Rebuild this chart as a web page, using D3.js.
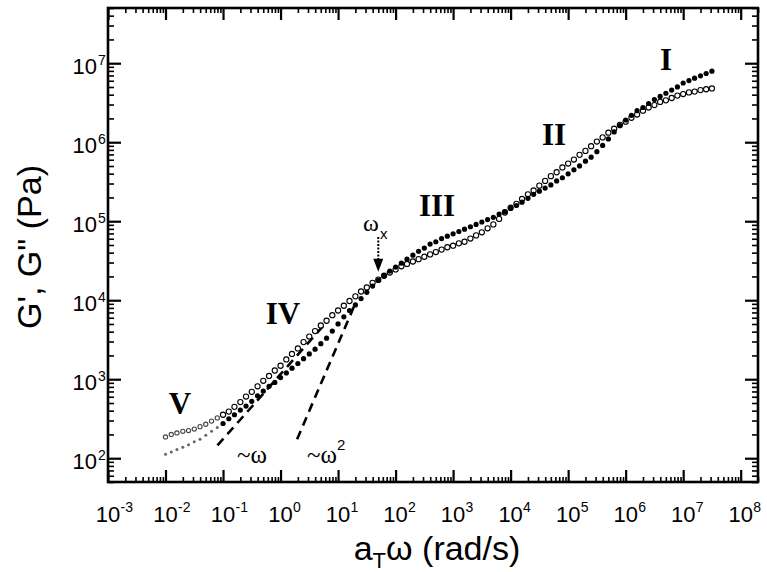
<!DOCTYPE html>
<html><head><meta charset="utf-8">
<script src="https://cdn.jsdelivr.net/npm/d3@7"></script>
<style>body{margin:0;background:#fff}</style>
</head><body><svg id="c" width="767" height="572"></svg>
<script>
// ---- data ----
const freq = [
1.00e-2,1.26e-2,1.58e-2,2.00e-2,2.51e-2,3.16e-2,3.98e-2,5.01e-2,6.31e-2,7.94e-2,
1.00e-1,1.26e-1,1.58e-1,2.00e-1,2.51e-1,3.16e-1,3.98e-1,5.01e-1,6.31e-1,7.94e-1,
1.00e0,1.26e0,1.58e0,2.00e0,2.51e0,3.16e0,3.98e0,5.01e0,6.31e0,7.94e0,
1.00e1,1.26e1,1.58e1,2.00e1,2.51e1,3.16e1,3.98e1,5.01e1,6.31e1,7.94e1,
1.00e2,1.26e2,1.58e2,2.00e2,2.51e2,3.16e2,3.98e2,5.01e2,6.31e2,7.94e2,
1.00e3,1.26e3,1.58e3,2.00e3,2.51e3,3.16e3,3.98e3,5.01e3,6.31e3,7.94e3,
1.00e4,1.26e4,1.58e4,2.00e4,2.51e4,3.16e4,3.98e4,5.01e4,6.31e4,7.94e4,
1.00e5,1.26e5,1.58e5,2.00e5,2.51e5,3.16e5,3.98e5,5.01e5,6.31e5,7.94e5,
1.00e6,1.26e6,1.58e6,2.00e6,2.51e6,3.16e6,3.98e6,5.01e6,6.31e6,7.94e6,
1.00e7,1.26e7,1.58e7,2.00e7,2.51e7,3.16e7];
// G' (storage modulus, filled circles)
const gStorage = [
112,120,129,138,148,162,174,195,219,245,
275,316,355,407,457,525,617,708,813,912,
1.05e3,1.20e3,1.38e3,1.58e3,1.82e3,2.09e3,2.40e3,2.82e3,3.31e3,4.07e3,
5.01e3,6.17e3,7.41e3,8.71e3,1.05e4,1.26e4,1.51e4,1.78e4,2.04e4,2.34e4,
2.63e4,2.95e4,3.31e4,3.72e4,4.17e4,4.57e4,5.13e4,5.50e4,6.03e4,6.46e4,
6.92e4,7.41e4,7.94e4,8.51e4,9.12e4,9.77e4,1.05e5,1.12e5,1.23e5,1.32e5,
1.45e5,1.58e5,1.74e5,1.95e5,2.19e5,2.40e5,2.63e5,2.88e5,3.24e5,3.55e5,
3.98e5,4.47e5,5.01e5,5.75e5,6.46e5,7.59e5,9.12e5,1.10e6,1.35e6,1.62e6,
1.91e6,2.19e6,2.51e6,2.75e6,3.09e6,3.47e6,3.80e6,4.17e6,4.57e6,5.01e6,
5.62e6,6.03e6,6.46e6,6.92e6,7.41e6,7.94e6];
// G" (loss modulus, open circles)
const gLoss = [
186,200,209,219,224,234,251,269,295,324,
355,389,447,513,603,692,813,955,1.10e3,1.29e3,
1.48e3,1.78e3,2.09e3,2.45e3,2.95e3,3.47e3,4.07e3,4.79e3,5.50e3,6.46e3,
7.41e3,8.51e3,9.77e3,1.12e4,1.29e4,1.45e4,1.66e4,1.82e4,2.04e4,2.24e4,
2.45e4,2.69e4,2.88e4,3.09e4,3.31e4,3.55e4,3.80e4,4.07e4,4.37e4,4.68e4,
4.90e4,5.25e4,5.50e4,6.03e4,6.61e4,7.24e4,8.13e4,9.12e4,1.07e5,1.29e5,
1.48e5,1.66e5,1.91e5,2.19e5,2.45e5,2.82e5,3.24e5,3.72e5,4.17e5,4.79e5,
5.37e5,6.03e5,6.92e5,7.76e5,8.91e5,1.02e6,1.15e6,1.32e6,1.48e6,1.66e6,
1.82e6,2.04e6,2.24e6,2.51e6,2.75e6,2.95e6,3.24e6,3.39e6,3.63e6,3.89e6,
4.07e6,4.27e6,4.37e6,4.57e6,4.68e6,4.79e6];
const xMajorTicks = [1e-3,1e-2,1e-1,1e0,1e1,1e2,1e3,1e4,1e5,1e6,1e7,1e8];
const xTickExp = ["-3","-2","-1","0","1","2","3","4","5","6","7","8"];
const yMajorTicks = [1e2,1e3,1e4,1e5,1e6,1e7];
const yTickExp = ["2","3","4","5","6","7"];
const regionNames = ["I","II","III","IV","V"];
const regionFreq = [5.06e6, 5.7e4, 527, 1.10, 0.0179];
const regionModulus = [8.15e6, 9.1e5, 1.18e5, 5.0e3, 361];
const slopeOneLine = [[0.08,145],[5.9,5.0e3]];
const slopeTwoLine = [[1.94,174],[19.8,9.0e3]];
const omegaX = 50;

// ---- chart ----
const svg = d3.select("#c");
const L = 108, R = 758, T = 8, B = 482;
const x = d3.scaleLog().domain([1e-3, 2e8]).range([L, R]);
const y = d3.scaleLog().domain([50, 5e7]).range([B, T]);
const sans = "'Liberation Sans', Arial, Helvetica, sans-serif";
const serif = "'Liberation Serif', 'Times New Roman', serif";

function minors(domain){
  const out=[]; const lo=Math.floor(Math.log10(domain[0])), hi=Math.ceil(Math.log10(domain[1]));
  for(let d=lo; d<=hi; d++) for(let k=2;k<=9;k++){const v=k*Math.pow(10,d); if(v>=domain[0]*0.999 && v<=domain[1]*1.001) out.push(v);}
  return out;
}
const xMin = minors(x.domain()), yMin = minors(y.domain());

function drawAxis(axis, tr, vals, size, sw){
  const g = svg.append("g").attr("transform", tr)
    .call(axis.tickValues(vals).tickSize(size).tickFormat(""));
  g.select(".domain").remove();
  g.selectAll(".tick line").attr("stroke","#000").attr("stroke-width",sw);
  return g;
}
// bottom / top
drawAxis(d3.axisBottom(x), `translate(0,${B})`, xMin, -5, 1.6);
drawAxis(d3.axisBottom(x), `translate(0,${B})`, xMajorTicks, -12, 2.2);
drawAxis(d3.axisTop(x), `translate(0,${T})`, xMin, -5, 1.6);
drawAxis(d3.axisTop(x), `translate(0,${T})`, xMajorTicks, -12, 2.2);
// left / right
drawAxis(d3.axisLeft(y), `translate(${L},0)`, yMin, -6, 1.6);
drawAxis(d3.axisLeft(y), `translate(${L},0)`, yMajorTicks, -13, 2.2);
drawAxis(d3.axisRight(y), `translate(${R},0)`, yMin, -6, 1.6);
drawAxis(d3.axisRight(y), `translate(${R},0)`, yMajorTicks, -13, 2.2);

svg.append("rect").attr("x",L).attr("y",T).attr("width",R-L).attr("height",B-T)
  .attr("fill","none").attr("stroke","#000").attr("stroke-width",2.6);

// tick labels
xMajorTicks.forEach((v,i)=>{
  svg.append("text").attr("x",x(v)).attr("y",522).attr("text-anchor","middle")
    .attr("font-family",sans).attr("font-size",22).text("10");
  svg.append("text").attr("x",x(v)+12.5).attr("y",512).attr("text-anchor","start")
    .attr("font-family",sans).attr("font-size",14).text(xTickExp[i]);
});
yMajorTicks.forEach((v,i)=>{
  svg.append("text").attr("x",97).attr("y",y(v)+11).attr("text-anchor","end")
    .attr("font-family",sans).attr("font-size",22).text("10");
  svg.append("text").attr("x",98).attr("y",y(v)+2).attr("text-anchor","start")
    .attr("font-family",sans).attr("font-size",14).text(yTickExp[i]);
});

// axis titles
const xt = svg.append("text").attr("x",(L+R)/2+4).attr("y",560).attr("text-anchor","middle")
  .attr("font-family",sans).attr("font-size",34);
xt.append("tspan").text("a");
xt.append("tspan").attr("font-size",22).attr("dy",8).text("T");
xt.append("tspan").attr("dy",-8).text("\u03c9 (rad/s)");
svg.append("text").attr("transform",`translate(41,${(T+B)/2+2}) rotate(-90)`)
  .attr("text-anchor","middle").attr("font-family",sans).attr("font-size",34)
  .text("G', G\" (Pa)");

// dashed guide lines
const line = d3.line().x(d=>x(d[0])).y(d=>y(d[1]));
[slopeOneLine, slopeTwoLine].forEach(l=>{
  svg.append("path").attr("d",line(l)).attr("fill","none").attr("stroke","#000")
    .attr("stroke-width",2.6).attr("stroke-dasharray","9,6");
});

// data
const pts = freq.map((f,i)=>({f, gs:gStorage[i], gl:gLoss[i]}));
svg.append("g").selectAll("circle").data(pts).join("circle")
  .attr("cx",d=>x(d.f)).attr("cy",d=>y(d.gl))
  .attr("r",d=>d.f<0.1?2.1:2.6)
  .attr("fill","#fff").attr("stroke",d=>d.f<0.1?"#444":"#000").attr("stroke-width",1.1);
svg.append("g").selectAll("circle").data(pts).join("circle")
  .attr("cx",d=>x(d.f)).attr("cy",d=>y(d.gs))
  .attr("r",d=>d.f<0.1?1.5:2.6)
  .attr("fill",d=>d.f<0.1?"#666":"#000");

// region labels
regionNames.forEach((n,i)=>{
  svg.append("text").attr("x",x(regionFreq[i])).attr("y",y(regionModulus[i]))
    .attr("text-anchor","middle").attr("font-family",serif).attr("font-weight","bold")
    .attr("font-size",31).text(n);
});

// omega_x annotation
const ox = svg.append("text").attr("x",x(omegaX)-3).attr("y",y(7.6e4)).attr("text-anchor","middle")
  .attr("font-family",serif).attr("font-size",24);
ox.append("tspan").text("\u03c9");
ox.append("tspan").attr("font-family",sans).attr("font-size",15).attr("dy",8).attr("dx",1).text("x");
const ax = x(omegaX), aTop = y(6.3e4), aTip = y(2.3e4);
svg.append("line").attr("x1",ax).attr("x2",ax).attr("y1",aTop).attr("y2",aTip-12)
  .attr("stroke","#000").attr("stroke-width",2).attr("stroke-dasharray","2,1.5");
svg.append("path").attr("d",`M${ax-5},${aTip-13}L${ax+5},${aTip-13}L${ax},${aTip}Z`).attr("fill","#000");

// slope labels
const s1 = svg.append("text").attr("x",x(0.175)).attr("y",y(86.5))
  .attr("font-family",serif).attr("font-size",25).text("~\u03c9");
const s2 = svg.append("text").attr("x",x(2.89)).attr("y",y(86.5))
  .attr("font-family",serif).attr("font-size",25);
s2.append("tspan").text("~\u03c9");
s2.append("tspan").attr("font-family",sans).attr("font-size",15).attr("dy",-13).text("2");
</script></body></html>
